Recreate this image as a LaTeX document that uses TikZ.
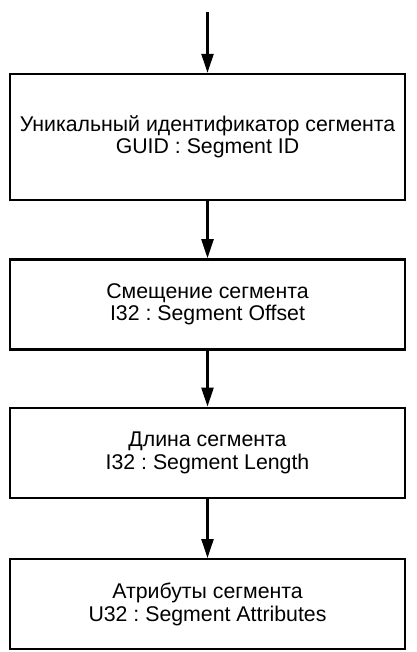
\documentclass[tikz,border=0pt]{standalone}
\usepackage{fontspec}
\setmainfont{Liberation Sans}
\usetikzlibrary{arrows.meta,positioning}

\begin{document}
\begin{tikzpicture}[x=1pt,y=1pt,
	field/.style={draw,line width=2.4pt,minimum width=395pt,inner sep=0pt,
		align=center,font=\fontsize{21.3}{22.5}\selectfont\frenchspacing},
	link/.style={line width=2.4pt,-{Triangle[length=19pt,width=12pt]}},
	node distance=57pt]
	\useasboundingbox(0,0)rectangle(416,-652);
	% entry point of the chain
	\coordinate(entry)at(207.5,-12);
	\node[field,minimum height=126pt](segid)at(207.5,-137)
	{Уникальный идентификатор сегмента\\GUID : Segment ID};
	\node[field,minimum height=90pt,below=of segid](segoffset)
	{Смещение сегмента\\I32 : Segment Offset};
	\node[field,minimum height=90pt,below=56pt of segoffset](seglength)
	{Длина сегмента\\I32 : Segment Length};
	\node[field,minimum height=90pt,below=59pt of seglength](segattr)
	{Атрибуты сегмента\\U32 : Segment Attributes};
	\draw[link](entry)--(segid);
	\draw[link](segid)--(segoffset);
	\draw[link](segoffset)--(seglength);
	\draw[link](seglength)--(segattr);
\end{tikzpicture}
\end{document}
